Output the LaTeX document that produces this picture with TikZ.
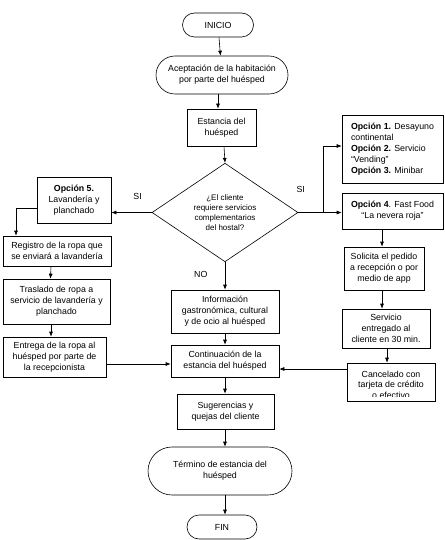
\documentclass[tikz,border=0pt]{standalone}
\usepackage{fontspec}
\setmainfont{Liberation Sans}
\usepackage{tikz}
\usetikzlibrary{shapes, arrows.meta, positioning}

\begin{document}
\begin{tikzpicture}[
            x=1pt, y=-1pt,
            font=\fontsize{8.8}{11}\selectfont,
            >={Latex[length=5pt,width=4pt]},
            line/.style={draw, line width=0.6pt},
            terminal/.style={rounded rectangle, draw, line width=0.6pt, inner sep=1pt, align=center},
            process/.style={rectangle, draw, line width=0.6pt, inner sep=1pt, align=center},
            decision/.style={diamond, draw, line width=0.6pt, inner sep=0pt, align=center, font=\fontsize{8}{10}\selectfont}
        ]
        \useasboundingbox (0,0) rectangle (444,540);

        % Main flow
        \node[terminal, minimum width=73pt, minimum height=24pt] (inicio) at (218,25) {INICIO};
        \node[terminal, minimum width=134pt, minimum height=38pt] (aceptacion) at (222,75) {Aceptación de la habitación\\por parte del huésped};
        \node[process, minimum width=69pt, minimum height=37pt] (estancia) at (221.5,127.5) {Estancia del\\huésped};
        \node[decision, minimum width=146pt, minimum height=89pt] (pregunta) at (225,212.5) {¿El cliente\\requiere servicios\\complementarios\\del hostal?};
        \node[process, minimum width=108pt, minimum height=43pt] (informacion) at (225,311.5) {Información\\gastronómica, cultural\\y de ocio al huésped};
        \node[process, minimum width=108pt, minimum height=32pt] (continuacion) at (225,361) {Continuación de la\\estancia del huésped};
        \node[process, minimum width=97pt, minimum height=35pt] (sugerencias) at (225.5,411.5) {Sugerencias y\\quejas del cliente};
        \node[terminal, minimum width=146pt, minimum height=48pt] (termino) at (220,471) {Término de estancia del\\huésped};
        \node[terminal, minimum width=72pt, minimum height=24pt] (fin) at (222,527) {FIN};

        % Laundry branch
        \node[process, minimum width=74pt, minimum height=46pt] (opcion5) at (74,200) {\textbf{Opción 5.}\\Lavandería y\\planchado};
        \node[process, minimum width=108pt, minimum height=30pt] (registro) at (57,251) {Registro de la ropa que\\se enviará a lavandería};
        \node[process, minimum width=107pt, minimum height=45pt] (traslado) at (56.5,301.5) {Traslado de ropa a\\servicio de lavandería y\\planchado};
        \node[process, minimum width=103pt, minimum height=40pt] (entrega) at (54.5,357) {Entrega de la ropa al\\huésped por parte de\\la recepcionista};

        % Food branch
        \node[process, minimum width=101pt, minimum height=68pt, align=left] (opcion13) at (392.5,149) {\textbf{Opción 1.} Desayuno\\continental\\\textbf{Opción 2.} Servicio\\“Vending”\\\textbf{Opción 3.} Minibar};
        \node[process, minimum width=101pt, minimum height=36pt] (opcion4) at (392.5,211) {\textbf{Opción 4}. Fast Food\\“La nevera roja”};
        \node[process, minimum width=80pt, minimum height=43pt] (solicita) at (384,268.5) {Solicita el pedido\\a recepción o por\\medio de app};
        \node[process, minimum width=88pt, minimum height=39pt] (servicio) at (386,328.5) {Servicio\\entregado al\\cliente en 30 min.};
        \node[process, minimum width=88pt, minimum height=38pt] (cancelado) at (391,382) {};
        \begin{scope}
            \clip (cancelado.north west) rectangle ([yshift=5pt]cancelado.south east);
            \node[align=center, font=\fontsize{8.8}{10.5}\selectfont] (canceladotxt) at ([yshift=-2.5pt]cancelado.center) {Cancelado con\\tarjeta de crédito\\o efectivo};
        \end{scope}

        \coordinate (opcion5out) at ([yshift=-8pt]opcion5.west);
        \coordinate (entregaout) at ([yshift=-7pt]entrega.east);
        \coordinate (canceladoout) at ([yshift=13pt]cancelado.west);
        \coordinate (rama) at (323,212.5);

        \draw[->, line] (inicio) -- (aceptacion);
        \draw[->, line] (aceptacion.south -| inicio) -- (estancia.north -| inicio);
        \draw[->, line] ([xshift=2.5pt]estancia.south) -- (pregunta.north);
        \draw[->, line] (pregunta.south) -- node[left=14pt, pos=0.45] {NO} (informacion.north);
        \draw[->, line] (informacion) -- (continuacion);
        \draw[->, line] (continuacion) -- (sugerencias.north -| continuacion);
        \draw[->, line] (sugerencias.south -| continuacion) -- (termino.north -| continuacion);
        \draw[->, line] (termino.south -| continuacion) -- (fin.north -| continuacion);

        \draw[->, line] (pregunta.west) -- node[above=9pt, pos=0.35] {SI} (opcion5.east |- pregunta.west);
        \draw[->, line] (opcion5out) -| ([xshift=-41pt]registro.north);
        \draw[->, line] ([xshift=-6pt]registro.south) -- ([xshift=-6pt]traslado.north);
        \draw[->, line] ([xshift=-5.5pt]traslado.south) -- ([xshift=-3.5pt]entrega.north);
        \draw[->, line] (entregaout) -- (continuacion.west |- entregaout);

        \draw[line] (pregunta.east) -- node[above=16pt, pos=0.1] {SI} (rama);
        \draw[->, line] (rama) |- ([yshift=3pt]opcion13.west);
        \draw[->, line] (rama) -- (opcion4.west |- rama);
        \draw[->, line] ([xshift=-10.5pt]opcion4.south) -- ([xshift=-2pt]solicita.north);
        \draw[->, line] ([xshift=-2pt]solicita.south) -- ([xshift=-4pt]servicio.north);
        \draw[->, line] ([xshift=1pt]servicio.south) -- ([xshift=-4pt]cancelado.north);
        \draw[->, line] (canceladoout) -- (continuacion.east |- canceladoout);
    \end{tikzpicture}
\end{document}
